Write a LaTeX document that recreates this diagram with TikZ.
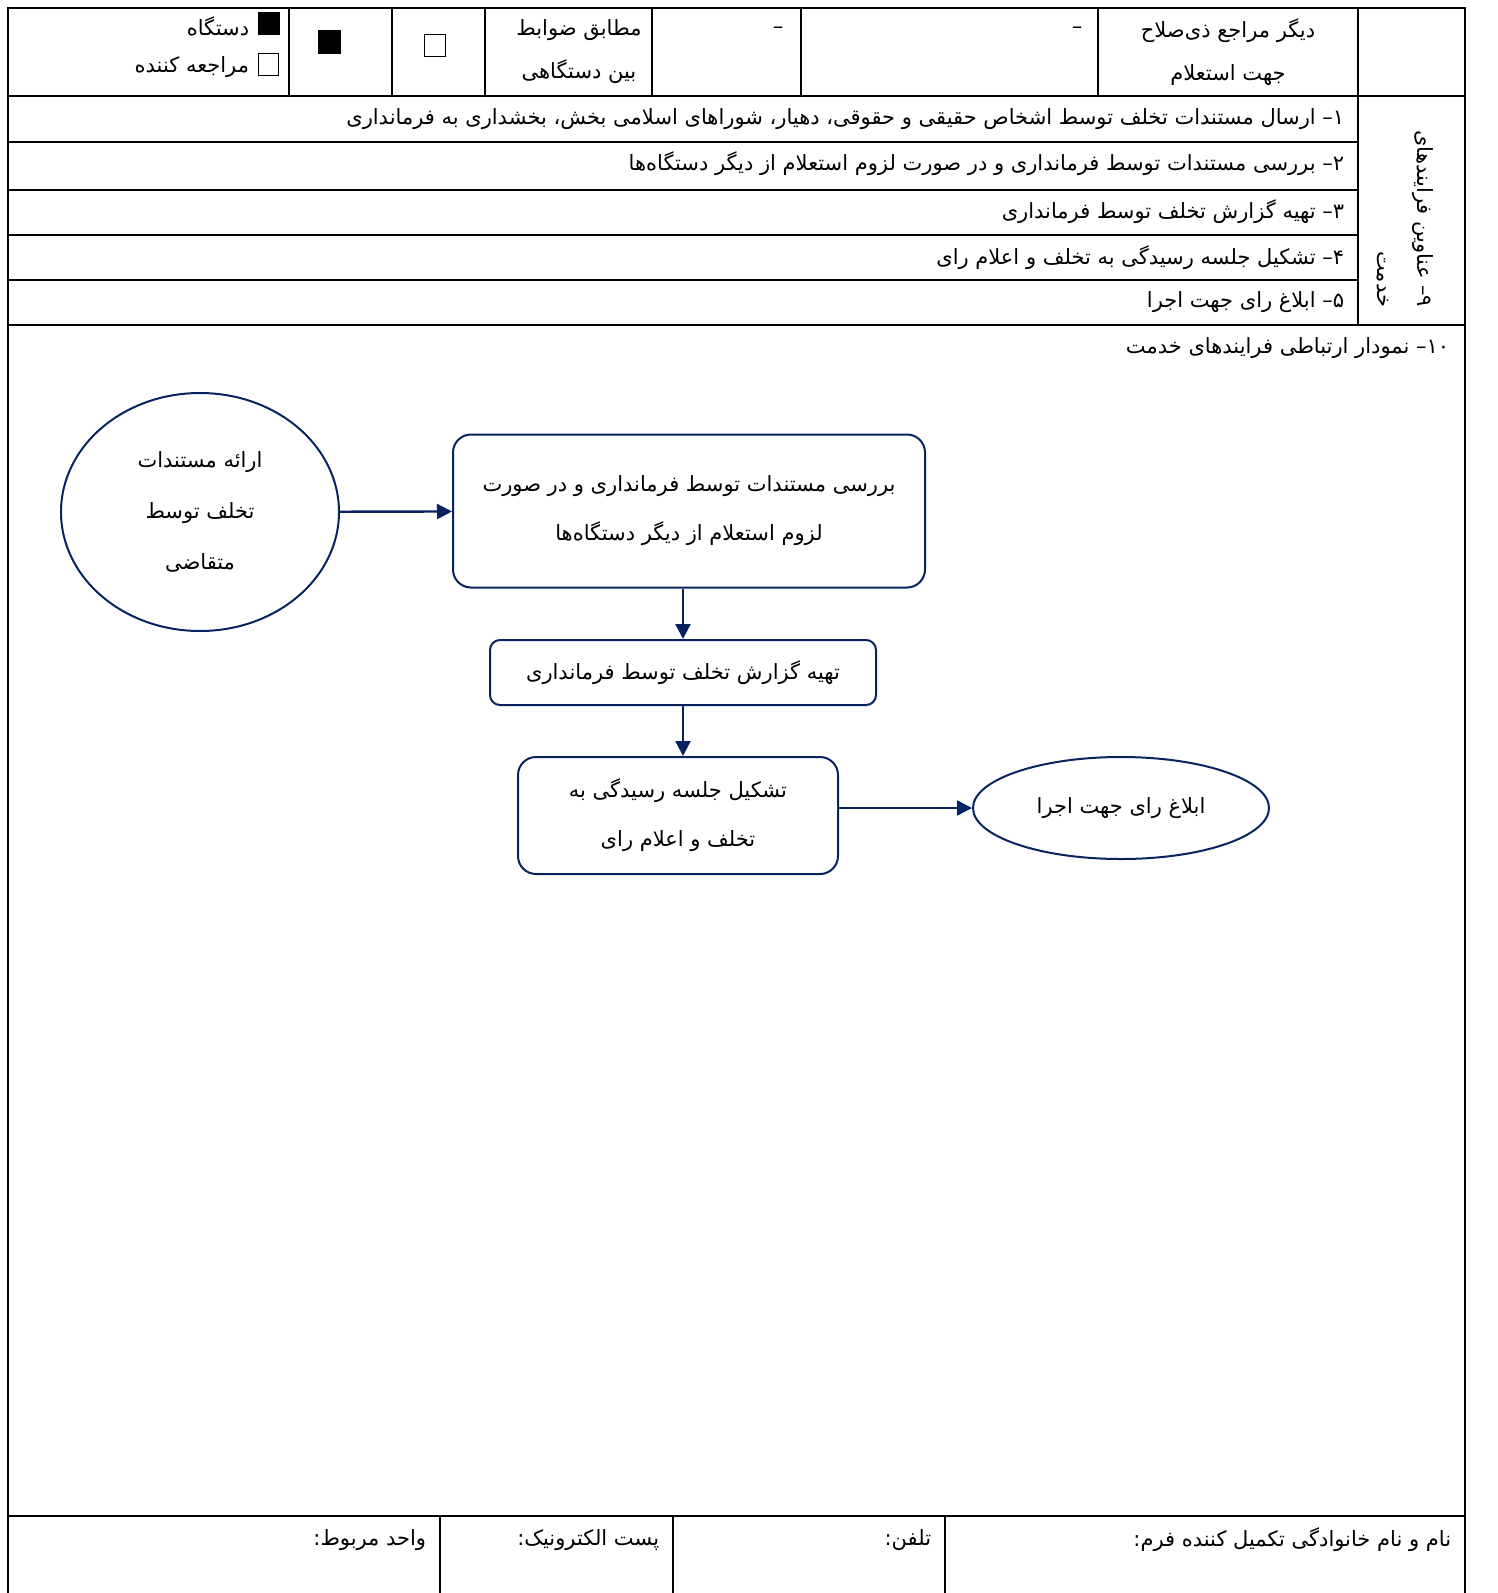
\documentclass[tikz,border=0pt]{standalone}
\usepackage{fontspec}
\usetikzlibrary{arrows.meta,shapes.geometric}
\newfontfamily\farsi[Script=Arabic]{DejaVu Sans}
\TeXXeTstate=1
\newcommand{\fatxt}[1]{\beginR #1\endR}
\definecolor{flowblue}{RGB}{8,36,96}

\begin{document}
\begin{tikzpicture}[x=1pt,y=-1pt,line width=1.8,
  every node/.style={font=\farsi\fontsize{21}{43}\selectfont,inner sep=0pt},
  box/.style={draw=flowblue,line width=2,rounded corners=18,align=center,
    font=\farsi\fontsize{21}{49}\selectfont},
  ell/.style={draw=flowblue,line width=2,ellipse,align=center,
    font=\farsi\fontsize{21}{51}\selectfont},
  link/.style={draw=flowblue,line width=2.4,-{Triangle[length=15pt,width=15pt]}}]
\useasboundingbox (0,0) rectangle (1498,1593);

\draw (8,1593)--(8,8)--(1465,8)--(1465,1593);
\foreach \y in {96,325,1516} \draw (8,\y)--(1465,\y);
\foreach \y in {142,190,235,280} \draw (8,\y)--(1358,\y);
\draw (1358,96)--(1358,325);
\foreach \x in {289,392,485,652,801,1098,1358} \draw (\x,8)--(\x,96);
\foreach \x in {440,673,945} \draw (\x,1516)--(\x,1593);

\filldraw[line width=1] (258,12) rectangle (279,34);
\draw[line width=1] (258,53) rectangle (278,75);
\filldraw[line width=1] (318,30) rectangle (340,53);
\draw[line width=1] (424,34) rectangle (445,56);
\node[anchor=east] (dev) at (250,26) {\fatxt{دستگاه}};
\node[anchor=east] (client) at (250,67) {\fatxt{مراجعه کننده}};
\node[align=center] (rules) at (579,52) {\fatxt{مطابق ضوابط}\\\fatxt{بین دستگاهی}};
\node (dashA) at (778,30) {–};
\node (dashB) at (1077,30) {–};
\node[align=center] (others) at (1228,52) {\fatxt{دیگر مراجع ذی‌صلاح}\\\fatxt{جهت استعلام}};

\node[anchor=east] (step1) at (1345,119) {\fatxt{۱– ارسال مستندات تخلف توسط اشخاص حقیقی و حقوقی، دهیار، شوراهای اسلامی بخش، بخشداری به فرمانداری}};
\node[anchor=east] (step2) at (1345,164) {\fatxt{۲– بررسی مستندات توسط فرمانداری و در صورت لزوم استعلام از دیگر دستگاه‌ها}};
\node[anchor=east] (step3) at (1345,212) {\fatxt{۳– تهیه گزارش تخلف توسط فرمانداری}};
\node[anchor=east] (step4) at (1345,258) {\fatxt{۴– تشکیل جلسه رسیدگی به تخلف و اعلام رای}};
\node[anchor=east] (step5) at (1345,302) {\fatxt{۵– ابلاغ رای جهت اجرا}};
\node[rotate=-90,anchor=east,align=right,font=\farsi\fontsize{21}{40}\selectfont] (title9) at (1405,308) {\fatxt{۹– عناوین فرایندهای}\\\fatxt{خدمت}};
\node[anchor=east] (title10) at (1450,348) {\fatxt{\beginL ۱۰\endL{}– نمودار ارتباطی فرایندهای خدمت}};

\node[ell,minimum width=278,minimum height=238] (submit) at (200,512) {\fatxt{ارائه مستندات}\\\fatxt{تخلف توسط}\\\fatxt{متقاضی}};
\node[box,minimum width=472,minimum height=153] (review) at (689,511) {\fatxt{بررسی مستندات توسط فرمانداری و در صورت}\\\fatxt{لزوم استعلام از دیگر دستگاه‌ها}};
\node[box,minimum width=386,minimum height=65,rounded corners=10] (report) at (683,672.5) {\fatxt{تهیه گزارش تخلف توسط فرمانداری}};
\node[box,minimum width=320,minimum height=117] (session) at (678,815.5) {\fatxt{تشکیل جلسه رسیدگی به}\\\fatxt{تخلف و اعلام رای}};
\node[ell,minimum width=296,minimum height=102] (notify) at (1121,808) {\fatxt{ابلاغ رای جهت اجرا}};

\draw[link] (submit) -- (review);
\draw[link] (review.south -| report.north) -- (report.north);
\draw[link] (report.south) -- (report.south |- session.north);
\draw[link] (session.east |- notify.west) -- (notify.west);

\node[anchor=east] (fillname) at (1452,1540) {\fatxt{نام و نام خانوادگی تکمیل کننده فرم:}};
\node[anchor=east] (phone) at (932,1540) {\fatxt{تلفن:}};
\node[anchor=east] (email) at (660,1540) {\fatxt{پست الکترونیک:}};
\node[anchor=east] (unit) at (427,1540) {\fatxt{واحد مربوط:}};
\end{tikzpicture}
\end{document}
